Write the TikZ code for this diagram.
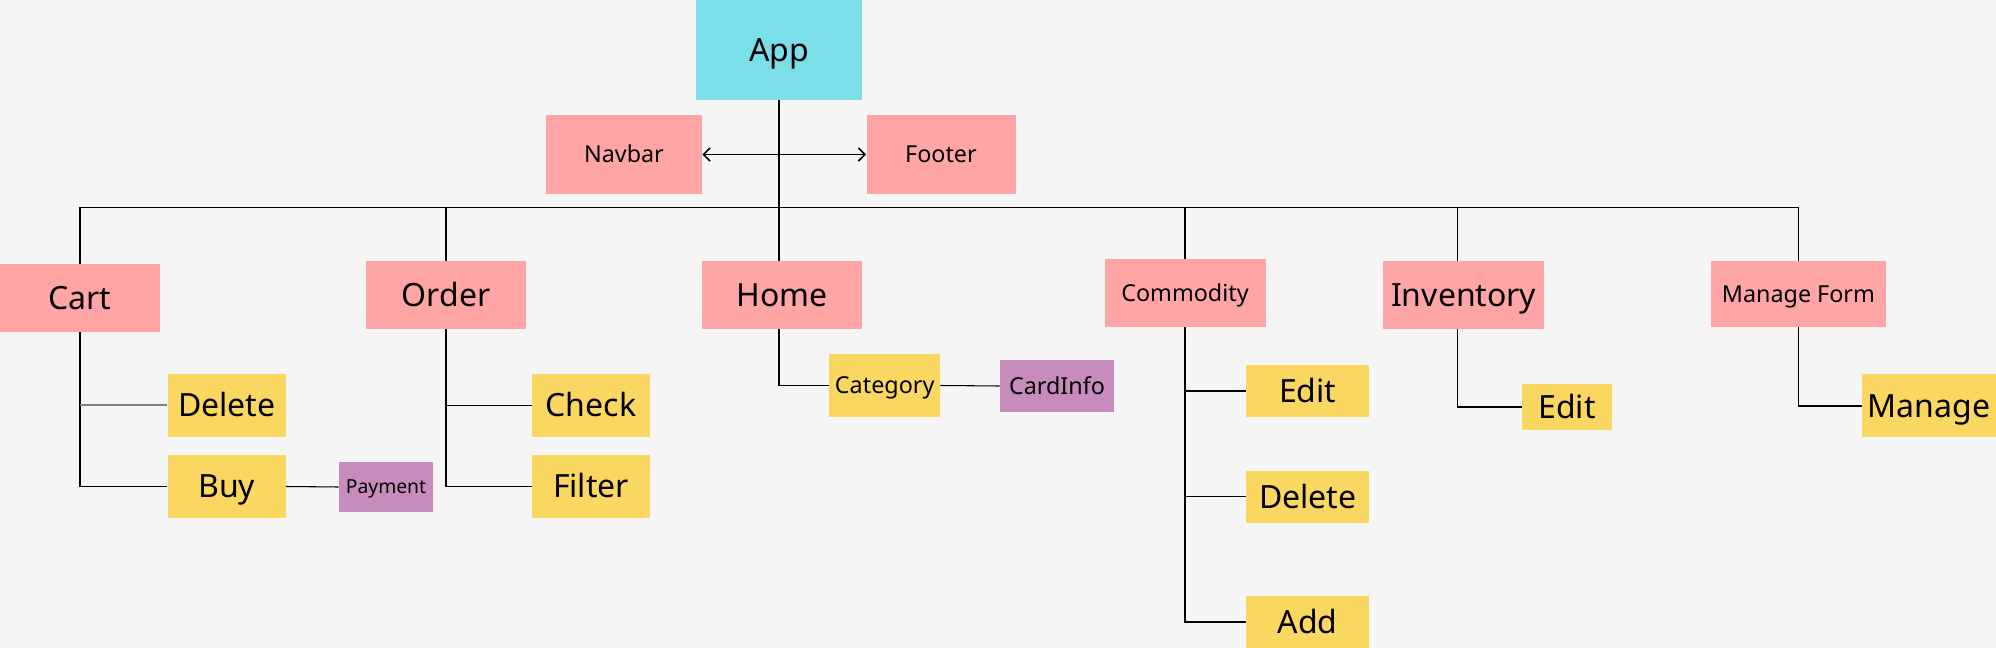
\documentclass[tikz,border=0pt]{standalone}
\usepackage{fontspec}
\setmainfont{Noto Sans}
\usetikzlibrary{arrows.meta}
\definecolor{bggray}{RGB}{245,245,245}
\definecolor{appcyan}{RGB}{123,223,234}
\definecolor{notered}{RGB}{255,165,165}
\definecolor{noteyellow}{RGB}{250,215,97}
\definecolor{notepurple}{RGB}{199,140,187}
\tikzset{
  box/.style={inner sep=0pt, text depth=0pt, align=center},
  dims/.style 2 args={minimum width=#1*0.75pt, minimum height=#2*0.75pt},
  bigtxt/.style={font=\fontsize{24}{28}\selectfont, text height=17.2pt},
  midtxt/.style={font=\fontsize{17.5}{21}\selectfont, text height=12.5pt},
  smalltxt/.style={font=\fontsize{14.5}{17}\selectfont, text height=10.4pt},
  appbox/.style={box, fill=appcyan},
  redbox/.style={box, fill=notered},
  ylwbox/.style={box, fill=noteyellow},
  prpbox/.style={box, fill=notepurple},
  link/.style={draw=black, line width=0.8pt},
}
\begin{document}
\begin{tikzpicture}[x=0.75pt,y=0.75pt,yscale=-1,xscale=1]
        % Background
        \fill[bggray] (0,0) rectangle (1996,648);
        \useasboundingbox (0,0) rectangle (1996,648);

        % Top level
        \node[appbox, bigtxt, dims={166}{100}] (app) at (779,50) {App};
        \node[redbox, midtxt, dims={156}{79}] (navbar) at (624,154.5) {Navbar};
        \node[redbox, midtxt, dims={149}{79}] (footer) at (941,154.5) {Footer};

        % Pages
        \node[redbox, bigtxt, dims={160}{68}] (cart) at (80,298) {Cart};
        \node[redbox, bigtxt, dims={160}{68}] (order) at (446,295) {Order};
        \node[redbox, bigtxt, dims={160}{68}] (home) at (782,295) {Home};
        \node[redbox, midtxt, dims={161}{68}] (commodity) at (1185,293) {Commodity};
        \node[redbox, bigtxt, dims={161}{68}] (inventory) at (1463.7,295) {Inventory};
        \node[redbox, midtxt, dims={175}{66}] (manageform) at (1798.4,294) {Manage Form};

        % Cart children
        \node[ylwbox, bigtxt, dims={118}{63}] (cartdelete) at (226.7,405.5) {Delete};
        \node[ylwbox, bigtxt, dims={118}{63}] (buy) at (226.7,486.5) {Buy};
        \node[prpbox, smalltxt, dims={94}{50}] (payment) at (386,487) {Payment};

        % Order children
        \node[ylwbox, bigtxt, dims={118}{63}] (check) at (591,405.5) {Check};
        \node[ylwbox, bigtxt, dims={118}{63}] (filter) at (591,486.5) {Filter};

        % Home children
        \node[ylwbox, midtxt, dims={111}{63}] (category) at (884.7,385.5) {Category};
        \node[prpbox, midtxt, dims={114}{52}] (cardinfo) at (1057,386) {CardInfo};

        % Commodity children
        \node[ylwbox, bigtxt, dims={123}{52}] (comedit) at (1307.7,391) {Edit};
        \node[ylwbox, bigtxt, dims={123}{52}] (comdelete) at (1307.7,496.8) {Delete};
        \node[ylwbox, bigtxt, dims={123}{52}] (add) at (1307.7,622) {Add};

        % Inventory and Manage Form children
        \node[ylwbox, bigtxt, dims={90}{46}] (invedit) at (1567,407) {Edit};
        \node[ylwbox, bigtxt, dims={134}{63}] (manage) at (1929,406) {Manage};

        % Bus
        \coordinate (busleft) at (80.4,207.3);
        \coordinate (busright) at (1797.8,207.3);
        \coordinate (invdrop) at (1457.9,207.3);
        \draw[link] (busleft) -- (busright);
        \draw[link] (app.south) -- (app.south |- home.north);
        \draw[link, line width=1.2pt, {Straight Barb[length=5pt,width=10pt]}-{Straight Barb[length=5pt,width=10pt]}] (navbar.east) -- (footer.west);
        \foreach \pg in {cart,order,commodity,manageform}
          \draw[link] (\pg.north |- busleft) -- (\pg.north);
        \draw[link] (invdrop) -- (invdrop |- inventory.north);

        % Cart branch
        \draw[link] (cart.south) |- (buy.west);
        \draw[link, draw=gray, line width=1.5pt] (cart.south |- cartdelete.west) -- (cartdelete.west);
        \draw[link] (buy.east) -- (payment.west);

        % Order branch
        \draw[link] (order.south) |- (filter.west);
        \draw[link] (order.south |- check.west) -- (check.west);

        % Home branch
        \draw[link] (app.south |- home.south) |- (category.west);
        \draw[link] (category.east) -- (cardinfo.west);

        % Commodity branch
        \draw[link] (commodity.south) |- (add.west);
        \draw[link] (commodity.south |- comedit.west) -- (comedit.west);
        \draw[link] (commodity.south |- comdelete.west) -- (comdelete.west);

        % Inventory and Manage Form branches
        \draw[link] (invdrop |- inventory.south) |- (invedit.west);
        \draw[link] (manageform.south) |- (manage.west);
    \end{tikzpicture}
\end{document}
